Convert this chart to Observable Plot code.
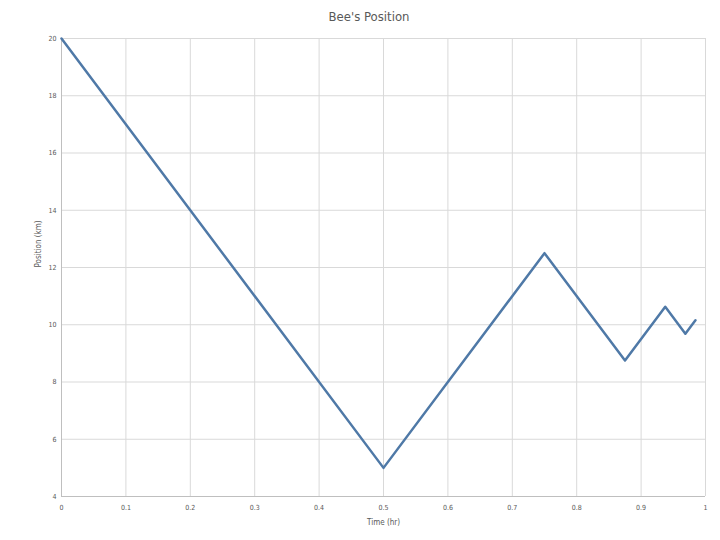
<!DOCTYPE html>
<html>
<head>
<meta charset="utf-8">
<script src="https://cdn.jsdelivr.net/npm/d3@7"></script>
<script src="https://cdn.jsdelivr.net/npm/@observablehq/plot@0.6"></script>
<style>
  body { margin: 0; background: #fff; }
  #title { height: 30px; line-height: 34px; text-align: center; padding-left: 18px;
    font-family: "Liberation Sans Narrow", "DejaVu Sans Condensed", sans-serif; font-size: 13px; color: #595959; }
</style>
</head>
<body>
<div id="title">Bee's Position</div>
<div id="chart"></div>
<script>
const times = [0, 0.5, 0.75, 0.875, 0.9375, 0.96875, 0.984375];
const positions = [20, 5, 12.5, 8.75, 10.625, 9.6875, 10.15625];
const xTicks = [0, 0.1, 0.2, 0.3, 0.4, 0.5, 0.6, 0.7, 0.8, 0.9, 1];
const yTicks = [4, 6, 8, 10, 12, 14, 16, 18, 20];
const xLabel = "Time (hr)";
const yLabel = "Position (km)";

const data = times.map((t, i) => ({t, p: positions[i]}));
const font = '"Liberation Sans Narrow", "DejaVu Sans Condensed", sans-serif';

const chart = Plot.plot({
  width: 720,
  height: 510,
  marginLeft: 61,
  marginRight: 15,
  marginTop: 8,
  marginBottom: 44,
  style: {fontFamily: font, color: "#595959", background: "#fff"},
  x: {domain: [0, 1]},
  y: {domain: [4, 20]},
  marks: [
    Plot.gridX(xTicks, {stroke: "#d9d9d9", strokeOpacity: 1}),
    Plot.gridY(yTicks, {stroke: "#d9d9d9", strokeOpacity: 1}),
    Plot.ruleX([0], {stroke: "#bfbfbf"}),
    Plot.ruleY([4], {stroke: "#bfbfbf"}),
    Plot.line(data, {x: "t", y: "p", stroke: "#4f79a7", strokeWidth: 2.5}),
    Plot.axisX(xTicks, {tickSize: 0, tickPadding: 9, fontSize: 7, fill: "#595959",
      tickFormat: d => String(d), label: null}),
    Plot.axisY(yTicks, {tickSize: 0, tickPadding: 5, fontSize: 7, fill: "#595959",
      tickFormat: d => String(d), label: null}),
    Plot.text([xLabel], {frameAnchor: "bottom", dy: 28, fontSize: 8, fill: "#595959"}),
    Plot.text([yLabel], {frameAnchor: "left", dx: -23, rotate: -90, fontSize: 8, fill: "#595959"})
  ]
});
document.getElementById("chart").appendChild(chart);
</script>
</body>
</html>
